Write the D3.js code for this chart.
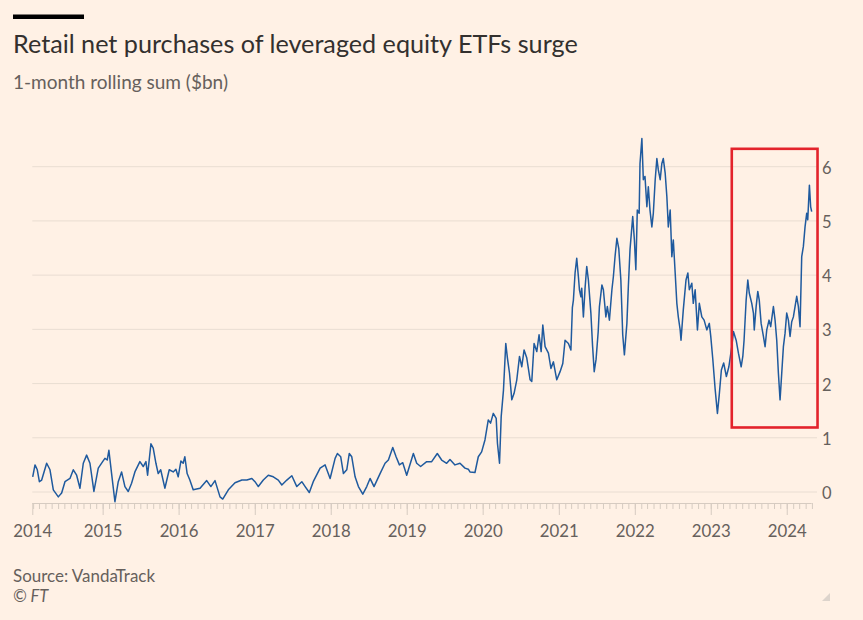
<!DOCTYPE html>
<html>
<head>
<meta charset="utf-8">
<script src="https://cdn.jsdelivr.net/npm/d3@7"></script>
<style>
  html, body { margin: 0; padding: 0; background: #fff1e5; }
  svg { display: block; }
  text { font-family: Lato, "Noto Sans", sans-serif; }
</style>
</head>
<body>
<svg id="chart" width="863" height="620"></svg>
<script>
// ---------- DATA ----------
const title = "Retail net purchases of leveraged equity ETFs surge";
const subtitle = "1-month rolling sum ($bn)";
const source = "Source: VandaTrack";
const credit = "© FT";

const dates = [
"2014-01-30","2014-02-10","2014-02-21","2014-03-03","2014-03-14","2014-04-07","2014-04-23","2014-05-09","2014-06-02","2014-06-18",
"2014-07-04","2014-07-28","2014-08-13","2014-08-29","2014-09-14","2014-09-30","2014-10-16","2014-11-01","2014-11-20","2014-12-11",
"2015-01-01","2015-01-12","2015-01-23","2015-01-31","2015-02-13","2015-03-01","2015-03-17","2015-04-02","2015-04-18","2015-05-04",
"2015-05-20","2015-06-05","2015-06-29","2015-07-15","2015-07-28","2015-08-05","2015-08-21","2015-09-01","2015-09-14","2015-09-25",
"2015-10-07","2015-10-27","2015-11-17","2015-12-06","2015-12-19","2015-12-30","2016-01-12","2016-01-23","2016-01-31","2016-02-11",
"2016-02-24","2016-03-11","2016-04-13","2016-05-15","2016-06-04","2016-06-24","2016-07-18","2016-07-31","2016-08-27","2016-09-28",
"2016-10-31","2016-11-24","2016-12-18","2017-01-02","2017-01-18","2017-02-11","2017-03-07","2017-03-31","2017-04-24","2017-05-11",
"2017-06-04","2017-06-28","2017-07-22","2017-08-15","2017-08-31","2017-09-20","2017-10-09","2017-11-11","2017-12-05","2017-12-29",
"2018-01-22","2018-02-02","2018-02-18","2018-03-03","2018-03-19","2018-03-31","2018-04-12","2018-04-28","2018-05-14","2018-06-04",
"2018-06-23","2018-07-09","2018-07-28","2018-08-26","2018-09-19","2018-10-05","2018-10-26","2018-11-11","2018-11-27","2018-12-13",
"2019-01-01","2019-02-02","2019-02-18","2019-03-09","2019-04-07","2019-05-01","2019-05-28","2019-06-18","2019-07-12","2019-07-28",
"2019-08-21","2019-09-14","2019-10-08","2019-10-24","2019-11-01","2019-11-25","2019-12-11","2019-12-27","2020-01-12","2020-01-28",
"2020-02-08","2020-02-21","2020-03-06","2020-03-12","2020-03-22","2020-03-30","2020-04-10","2020-04-21","2020-04-29","2020-05-09",
"2020-05-20","2020-05-31","2020-06-13","2020-06-26","2020-07-07","2020-07-18","2020-07-31","2020-08-16","2020-08-24","2020-09-04",
"2020-09-17","2020-09-28","2020-10-08","2020-10-16","2020-10-27","2020-11-12","2020-11-24","2020-12-06","2020-12-22","2021-01-07",
"2021-01-20","2021-01-31","2021-02-16","2021-02-28","2021-03-07","2021-03-12","2021-03-20","2021-03-28","2021-04-05","2021-04-10",
"2021-04-17","2021-04-21","2021-04-29","2021-05-07","2021-05-15","2021-05-23","2021-06-04","2021-06-12","2021-06-20","2021-06-29",
"2021-07-09","2021-07-15","2021-07-27","2021-08-03","2021-08-15","2021-08-22","2021-09-01","2021-09-13","2021-09-20","2021-09-28",
"2021-10-07","2021-10-16","2021-10-26","2021-11-04","2021-11-12","2021-11-24","2021-12-01","2021-12-09","2021-12-22","2021-12-30",
"2022-01-06","2022-01-13","2022-01-22","2022-01-26","2022-02-04","2022-02-11","2022-02-19","2022-02-28","2022-03-07","2022-03-15",
"2022-03-24","2022-03-31","2022-04-09","2022-04-17","2022-04-24","2022-05-03","2022-05-11","2022-05-18","2022-05-27","2022-06-04",
"2022-06-11","2022-06-20","2022-06-28","2022-07-05","2022-07-14","2022-07-22","2022-07-29","2022-08-07","2022-08-11","2022-08-22",
"2022-09-04","2022-09-13","2022-09-20","2022-10-02","2022-10-09","2022-10-18","2022-10-29","2022-11-07","2022-11-19","2022-11-30",
"2022-12-13","2022-12-25","2023-01-01","2023-01-11","2023-01-22","2023-02-02","2023-02-11","2023-02-21","2023-03-04","2023-03-17",
"2023-03-29","2023-04-12","2023-04-20","2023-05-03","2023-05-14","2023-05-27","2023-06-04","2023-06-10","2023-06-20","2023-06-28",
"2023-07-05","2023-07-17","2023-07-25","2023-07-29","2023-08-07","2023-08-15","2023-08-22","2023-08-31","2023-09-11","2023-09-19",
"2023-09-27","2023-10-08","2023-10-16","2023-10-29","2023-11-06","2023-11-14","2023-11-22","2023-11-30","2023-12-08","2023-12-16",
"2023-12-24","2024-01-01","2024-01-09","2024-01-17","2024-01-25","2024-02-02","2024-02-10","2024-02-18","2024-02-26","2024-03-05",
"2024-03-13","2024-03-21","2024-03-29","2024-04-06","2024-04-11","2024-04-19","2024-04-25","2024-04-30"
];

const values = [
0.28,0.50,0.41,0.19,0.22,0.53,0.41,0.04,-0.09,-0.02,
0.19,0.25,0.41,0.31,0.07,0.53,0.68,0.53,0.01,0.44,
0.56,0.62,0.59,0.77,0.34,-0.18,0.19,0.37,0.10,0.01,
0.16,0.37,0.56,0.47,0.56,0.31,0.89,0.81,0.53,0.34,
0.41,0.07,0.41,0.37,0.42,0.28,0.57,0.53,0.65,0.34,
0.22,0.04,0.07,0.21,0.10,0.21,-0.09,-0.13,0.04,0.17,
0.22,0.22,0.25,0.19,0.10,0.22,0.31,0.28,0.22,0.13,
0.22,0.30,0.10,0.19,0.10,-0.01,0.19,0.44,0.50,0.25,
0.62,0.71,0.65,0.34,0.41,0.71,0.65,0.28,0.10,-0.04,
0.10,0.25,0.10,0.34,0.53,0.59,0.82,0.65,0.50,0.54,
0.31,0.71,0.53,0.47,0.56,0.56,0.71,0.59,0.53,0.60,
0.50,0.53,0.44,0.42,0.37,0.36,0.65,0.74,0.96,1.33,
1.27,1.45,1.36,0.90,0.53,1.39,1.88,2.74,2.47,2.19,
1.70,1.82,2.07,2.50,2.31,2.62,2.47,2.07,2.04,2.74,
2.59,2.90,2.59,3.08,2.68,2.56,2.28,2.40,2.07,2.22,
2.37,2.80,2.74,2.62,3.40,3.54,4.04,4.31,3.97,3.73,
3.60,3.76,3.23,3.76,4.16,3.91,3.30,2.70,2.22,2.45,
2.95,3.42,3.82,3.73,3.23,3.42,3.17,3.73,3.97,4.34,
4.68,4.49,3.91,2.90,2.53,3.11,3.79,4.47,5.08,4.65,
4.10,5.20,5.14,6.06,6.52,5.76,5.82,5.26,5.63,5.20,
4.89,5.14,5.76,6.15,5.94,5.76,6.06,6.15,5.88,5.45,
4.89,5.20,4.34,4.65,4.04,3.48,3.23,2.99,2.80,3.36,
3.91,4.04,3.73,3.85,3.48,3.73,2.99,3.48,3.23,3.17,
2.99,3.11,2.87,2.44,1.90,1.45,1.80,2.25,2.38,2.13,
2.31,2.68,2.96,2.80,2.56,2.31,2.50,2.80,3.54,3.91,
3.67,3.48,3.30,2.99,3.42,3.70,3.54,3.11,2.87,2.68,
2.99,3.17,3.05,3.42,3.17,2.80,2.19,1.70,2.19,2.68,
2.93,3.30,3.17,2.87,3.14,3.23,3.42,3.61,3.42,3.05,
4.34,4.53,4.89,5.14,5.02,5.66,5.26,5.17
];

const axisStart = "2014-01-28";
const axisEnd = "2024-04-30";
const yearLabels = ["2014","2015","2016","2017","2018","2019","2020","2021","2022","2023","2024"];
const yTicks = [0, 1, 2, 3, 4, 5, 6];

// highlight box (annotation) in data units
const boxDates = ["2023-04-12", "2024-05-28"];
const boxValues = [1.19, 6.33];

// ---------- DRAW ----------
const parse = d3.utcParse("%Y-%m-%d");
const series = dates.map((d, i) => ({ date: parse(d), value: values[i] }));

const svg = d3.select("#chart");
const W = 863, H = 620;
svg.append("rect").attr("width", W).attr("height", H).attr("fill", "#fff1e5");

const x = d3.scaleUtc()
  .domain([parse(axisStart), parse(axisEnd)])
  .range([32.3, 811.7]);
const y = d3.scaleLinear().domain([0, 6]).range([492, 166.7]);

// fit a text element's font size so it spans a given width
function fitWidth(sel, target) {
  const node = sel.node();
  const fs = parseFloat(sel.style("font-size"));
  const w = node.getComputedTextLength();
  if (w > 0) sel.style("font-size", (fs * target / w).toFixed(2) + "px");
  return sel;
}

// top bar
svg.append("rect").attr("x", 13).attr("y", 14.5).attr("width", 71).attr("height", 4.5).attr("fill", "#000");

// titles
fitWidth(svg.append("text").attr("x", 13).attr("y", 53)
  .attr("fill", "#33302e").style("font-size", "24px").text(title), 565);
fitWidth(svg.append("text").attr("x", 13).attr("y", 88.5)
  .attr("fill", "#66605c").style("font-size", "17px").text(subtitle), 215);

// gridlines
const grid = svg.append("g");
grid.selectAll("line").data(yTicks).join("line")
  .attr("x1", 32.3).attr("x2", 817)
  .attr("y1", d => y(d)).attr("y2", d => y(d))
  .attr("stroke", "#e9ddd2").attr("stroke-width", 1);

// y labels (right)
const yAxis = d3.axisRight(y).tickValues(yTicks).tickSize(0).tickPadding(0).tickFormat(d3.format("d"));
const gy = svg.append("g").attr("transform", "translate(822,0)").call(yAxis);
gy.select(".domain").remove();
gy.selectAll("text").attr("fill", "#66605c").style("font-size", "16.5px").attr("dy", "0.4em")
  .style("font-family", "Lato, 'Noto Sans', sans-serif");

// x axis: monthly minor ticks + year major ticks
const xs0 = parse(axisStart), xs1 = d3.utcDay.offset(parse(axisEnd), 2);
const months = d3.utcMonth.range(xs0, xs1);
const years = [xs0].concat(d3.utcYear.range(d3.utcDay.offset(xs0, 1), xs1));

const gx = svg.append("g").attr("transform", "translate(0,503)");
gx.call(d3.axisBottom(x).tickValues(months).tickSize(6).tickFormat(""));
gx.select(".domain").attr("stroke", "#d6cbc1").attr("d", `M${x(xs0)},0.5H${x(parse(axisEnd))}`);
gx.selectAll(".tick line").attr("stroke", "#d6cbc1");

const gx2 = svg.append("g").attr("transform", "translate(0,503)");
gx2.call(d3.axisBottom(x).tickValues(years).tickSize(12).tickPadding(10)
  .tickFormat((d, i) => yearLabels[i]));
gx2.select(".domain").remove();
gx2.selectAll(".tick line").attr("stroke", "#d6cbc1");
gx2.selectAll("text").attr("fill", "#66605c").style("font-size", "16.8px")
  .style("font-family", "Lato, 'Noto Sans', sans-serif");

// line
const line = d3.line().x(d => x(d.date)).y(d => y(d.value)).curve(d3.curveLinear);
svg.append("path").datum(series)
  .attr("fill", "none").attr("stroke", "#1f5a9e").attr("stroke-width", 1.5)
  .attr("stroke-linejoin", "round").attr("d", line);

// highlight box
svg.append("rect")
  .attr("x", x(parse(boxDates[0]))).attr("y", y(boxValues[1]))
  .attr("width", x(parse(boxDates[1])) - x(parse(boxDates[0])))
  .attr("height", y(boxValues[0]) - y(boxValues[1]))
  .attr("fill", "none").attr("stroke", "#e3232b").attr("stroke-width", 2.6);

// footer
fitWidth(svg.append("text").attr("x", 13).attr("y", 581.5)
  .attr("fill", "#66605c").style("font-size", "16px").text(source), 142);
svg.append("text").attr("x", 13).attr("y", 602)
  .attr("fill", "#66605c").style("font-size", "16.5px").style("font-style", "italic").text(credit);

// corner grip
svg.append("path").attr("d", "M830,593L830,601L822,601Z").attr("fill", "#ddd4cc");
</script>
</body>
</html>
